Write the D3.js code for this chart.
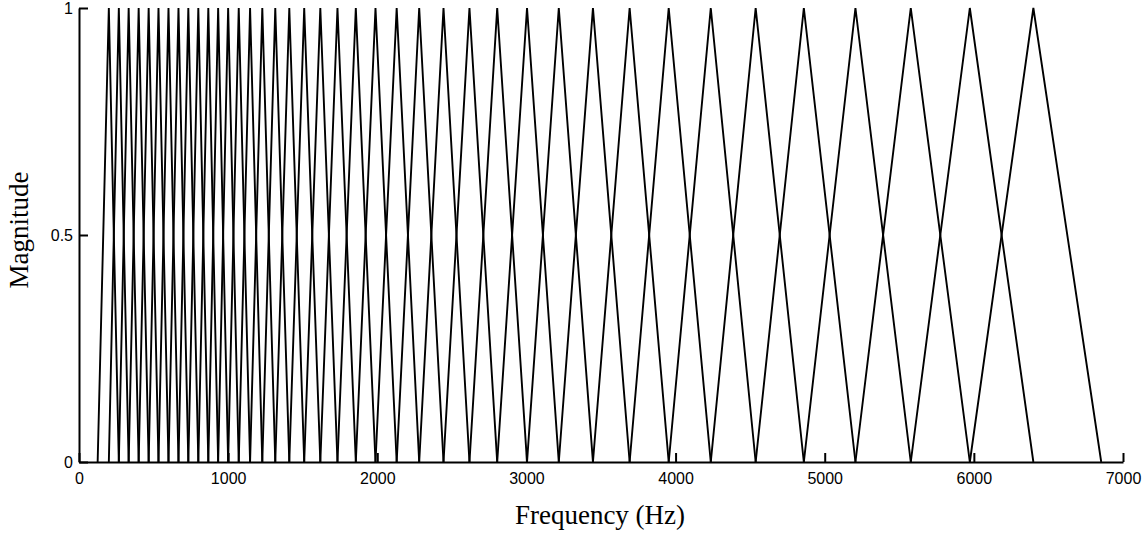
<!DOCTYPE html>
<html>
<head>
<meta charset="utf-8">
<script src="https://cdn.jsdelivr.net/npm/d3@7"></script>
<style>
  html, body { margin: 0; padding: 0; background: white; }
  #chart svg { display: block; }
</style>
</head>
<body>
<div id="chart"></div>
<script>
// Filter band edges in Hz (linear below 1 kHz, log spaced above).
// Filter i rises from edge i to a peak at edge i+1 and falls back to zero at edge i+2.
const edgeFrequencies = [
  125, 200, 267, 333, 400, 467, 533, 600, 667, 733, 800, 867, 933,
  1000, 1071, 1147, 1229, 1316, 1410, 1510, 1618, 1733, 1856, 1988,
  2130, 2281, 2444, 2618, 2804, 3004, 3217, 3446, 3692, 3954, 4236,
  4537, 4860, 5206, 5577, 5973, 6399, 6854
];
const peakMagnitude = 1;

const xTickValues = [0, 1000, 2000, 3000, 4000, 5000, 6000, 7000];
const yTickValues = [0, 0.5, 1];
const xLabel = 'Frequency (Hz)';
const yLabel = 'Magnitude';

class FilterbankChart {
  constructor(selector) {
    this.element = d3.select('#' + selector);
    this.initialize();
    this.draw();
  }

  initialize() {
    this.width = 1148;
    this.height = 535;
    this.margin = {top: 8, right: 25, bottom: 73, left: 79};
    this.graphWidth = this.width - this.margin.left - this.margin.right;
    this.graphHeight = this.height - this.margin.top - this.margin.bottom;
  }

  draw() {
    this.createSVG();
    this.createScales();
    this.renderFilters();
    this.renderAxis();
    this.renderLabels();
  }

  createSVG() {
    this.element.selectAll('svg').remove();
    this.svg = this.element
      .append('svg')
      .attr('width', this.width)
      .attr('height', this.height)
      .attr('viewBox', `0 0 ${this.width} ${this.height}`);
  }

  createScales() {
    this.x = d3.scaleLinear()
      .domain([0, 7000])
      .range([this.margin.left, this.width - this.margin.right]);

    this.y = d3.scaleLinear()
      .domain([0, 1])
      .range([this.height - this.margin.bottom, this.margin.top]);
  }

  renderFilters() {
    // one triangle for every three consecutive edges
    let filters = d3.range(edgeFrequencies.length - 2).map(i => [
      {f: edgeFrequencies[i], m: 0},
      {f: edgeFrequencies[i + 1], m: peakMagnitude},
      {f: edgeFrequencies[i + 2], m: 0}
    ]);

    let line = d3.line()
      .x(d => this.x(d.f))
      .y(d => this.y(d.m));

    this.svg
      .append('g')
      .selectAll('path')
      .data(filters)
      .enter()
      .append('path')
      .attr('d', line)
      .attr('fill', 'none')
      .attr('stroke', 'black')
      .attr('stroke-width', 1.9)
      .attr('stroke-linejoin', 'miter');
  }

  renderAxis() {
    let tickFont = '"Liberation Sans", Arial, sans-serif';

    let xAxis = this.svg
      .append('g')
      .attr('transform', `translate(0,${this.height - this.margin.bottom})`)
      .call(d3.axisBottom(this.x)
        .tickValues(xTickValues)
        .tickFormat(d3.format('d'))
        .tickSizeInner(-9)
        .tickSizeOuter(0)
        .tickPadding(11));

    let yAxis = this.svg
      .append('g')
      .attr('transform', `translate(${this.margin.left},0)`)
      .call(d3.axisLeft(this.y)
        .tickValues(yTickValues)
        .tickFormat(d => d === 0.5 ? '0.5' : d3.format('d')(d))
        .tickSizeInner(-9)
        .tickSizeOuter(0)
        .tickPadding(6));

    [xAxis, yAxis].forEach(axis => {
      axis.select('.domain').attr('stroke', 'black').attr('stroke-width', 2);
      axis.selectAll('.tick line').attr('stroke', 'black').attr('stroke-width', 2);
      axis.selectAll('.tick text')
        .attr('fill', 'black')
        .style('font-family', tickFont)
        .style('font-size', '16px');
    });
  }

  renderLabels() {
    let labelFont = '"Liberation Serif", "Times New Roman", serif';

    this.svg
      .append('text')
      .attr('x', 600)
      .attr('y', 524)
      .attr('text-anchor', 'middle')
      .style('font-family', labelFont)
      .style('font-size', '27px')
      .text(xLabel);

    this.svg
      .append('text')
      .attr('transform', 'translate(28,230) rotate(-90)')
      .attr('text-anchor', 'middle')
      .style('font-family', labelFont)
      .style('font-size', '27px')
      .text(yLabel);
  }
}

new FilterbankChart('chart');
</script>
</body>
</html>
